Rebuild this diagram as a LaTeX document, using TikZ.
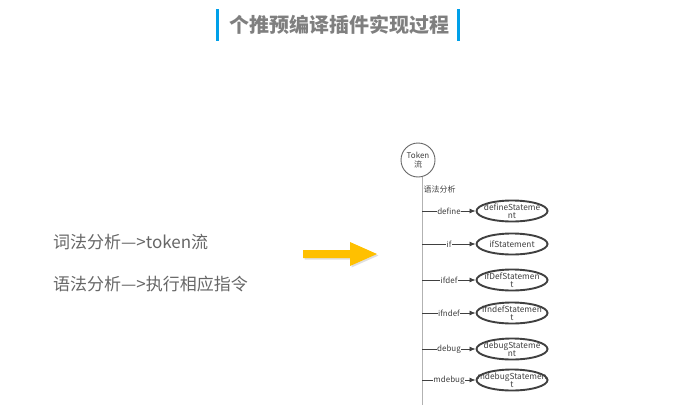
\documentclass[tikz,border=0pt]{standalone}
\usepackage{fontspec}
\setmainfont{Noto Sans CJK SC}
\usetikzlibrary{arrows.meta,shapes.geometric,shadows}
\definecolor{titlegray}{HTML}{7F7F7F}
\definecolor{textgray}{HTML}{666666}
\definecolor{barblue}{HTML}{00A0E9}
\definecolor{arrowyellow}{HTML}{FFC000}
\definecolor{dark}{HTML}{404040}
\begin{document}
\begin{tikzpicture}[x=1pt,y=-1pt,
  lbl/.style={font=\fontsize{8}{8}\selectfont, text=dark, fill=white, inner sep=0.6pt},
  stmt/.style={ellipse, draw=dark, line width=1.9pt, minimum width=71pt, minimum height=21pt, inner sep=0pt, fill=white},
  stext/.style={font=\fontsize{8.3}{8.3}\selectfont, text=dark, align=center, inner sep=0pt},
  br/.style={draw=dark, line width=0.8pt, -{Latex[length=6pt,width=5pt]}},
  lefttext/.style={anchor=west, font=\fontsize{17}{17}\selectfont, text=textgray, inner sep=0pt}
]
\useasboundingbox (0,0) rectangle (679,415);
% title
\fill[barblue] (216,9) rectangle (219,41);
\fill[barblue] (457,9) rectangle (460,41);
\node[font=\bfseries\fontsize{20}{20}\selectfont, text=titlegray] (title) at (339,24.5) {个推预编译插件实现过程};
% left text
\node[lefttext] (l1) at (53,242) {词法分析—>token流};
\node[lefttext] (l2) at (53,284) {语法分析—>执行相应指令};
% yellow arrow
\fill[arrowyellow, drop shadow={shadow xshift=1.5pt, shadow yshift=-1.5pt, opacity=0.25}]
  (303,250) -- (350,250) -- (350,242) -- (377,254) -- (350,266) -- (350,258) -- (303,258) -- cycle;
% token circle
\node[circle, draw=dark!80, line width=0.9pt, minimum size=34pt, inner sep=0pt, align=center,
      font=\fontsize{8}{9}\selectfont, text=dark] (tok) at (418,160) {Token\\流};
\coordinate (vend) at (422,405);
\draw[gray!60, line width=0.9pt] (tok.south -| vend) -- (vend);
\node[anchor=west, font=\fontsize{8}{8}\selectfont, text=dark, inner sep=0.5pt] (yf) at (423,189) {语法分析};
% branches
\foreach \i/\y/\lab/\txt in {1/211/define/{defineStateme\\nt},
                              2/244/if/{ifStatement},
                              3/280/ifdef/{ifDefStatemen\\t},
                              4/313/ifndef/{ifndefStatemen\\t},
                              5/349/debug/{debugStateme\\nt},
                              6/380/mdebug/{mdebugStatemen\\t}}{
  \coordinate (b\i) at (422,\y);
  \node[stmt] (s\i) at (512,\y) {};
  \node[stext] (t\i) at (s\i) {\txt};
  \draw[br] (b\i) -- (s\i.west);
  \node[lbl] (l\i) at (449,\y) {\lab};
}
\end{tikzpicture}
\end{document}
